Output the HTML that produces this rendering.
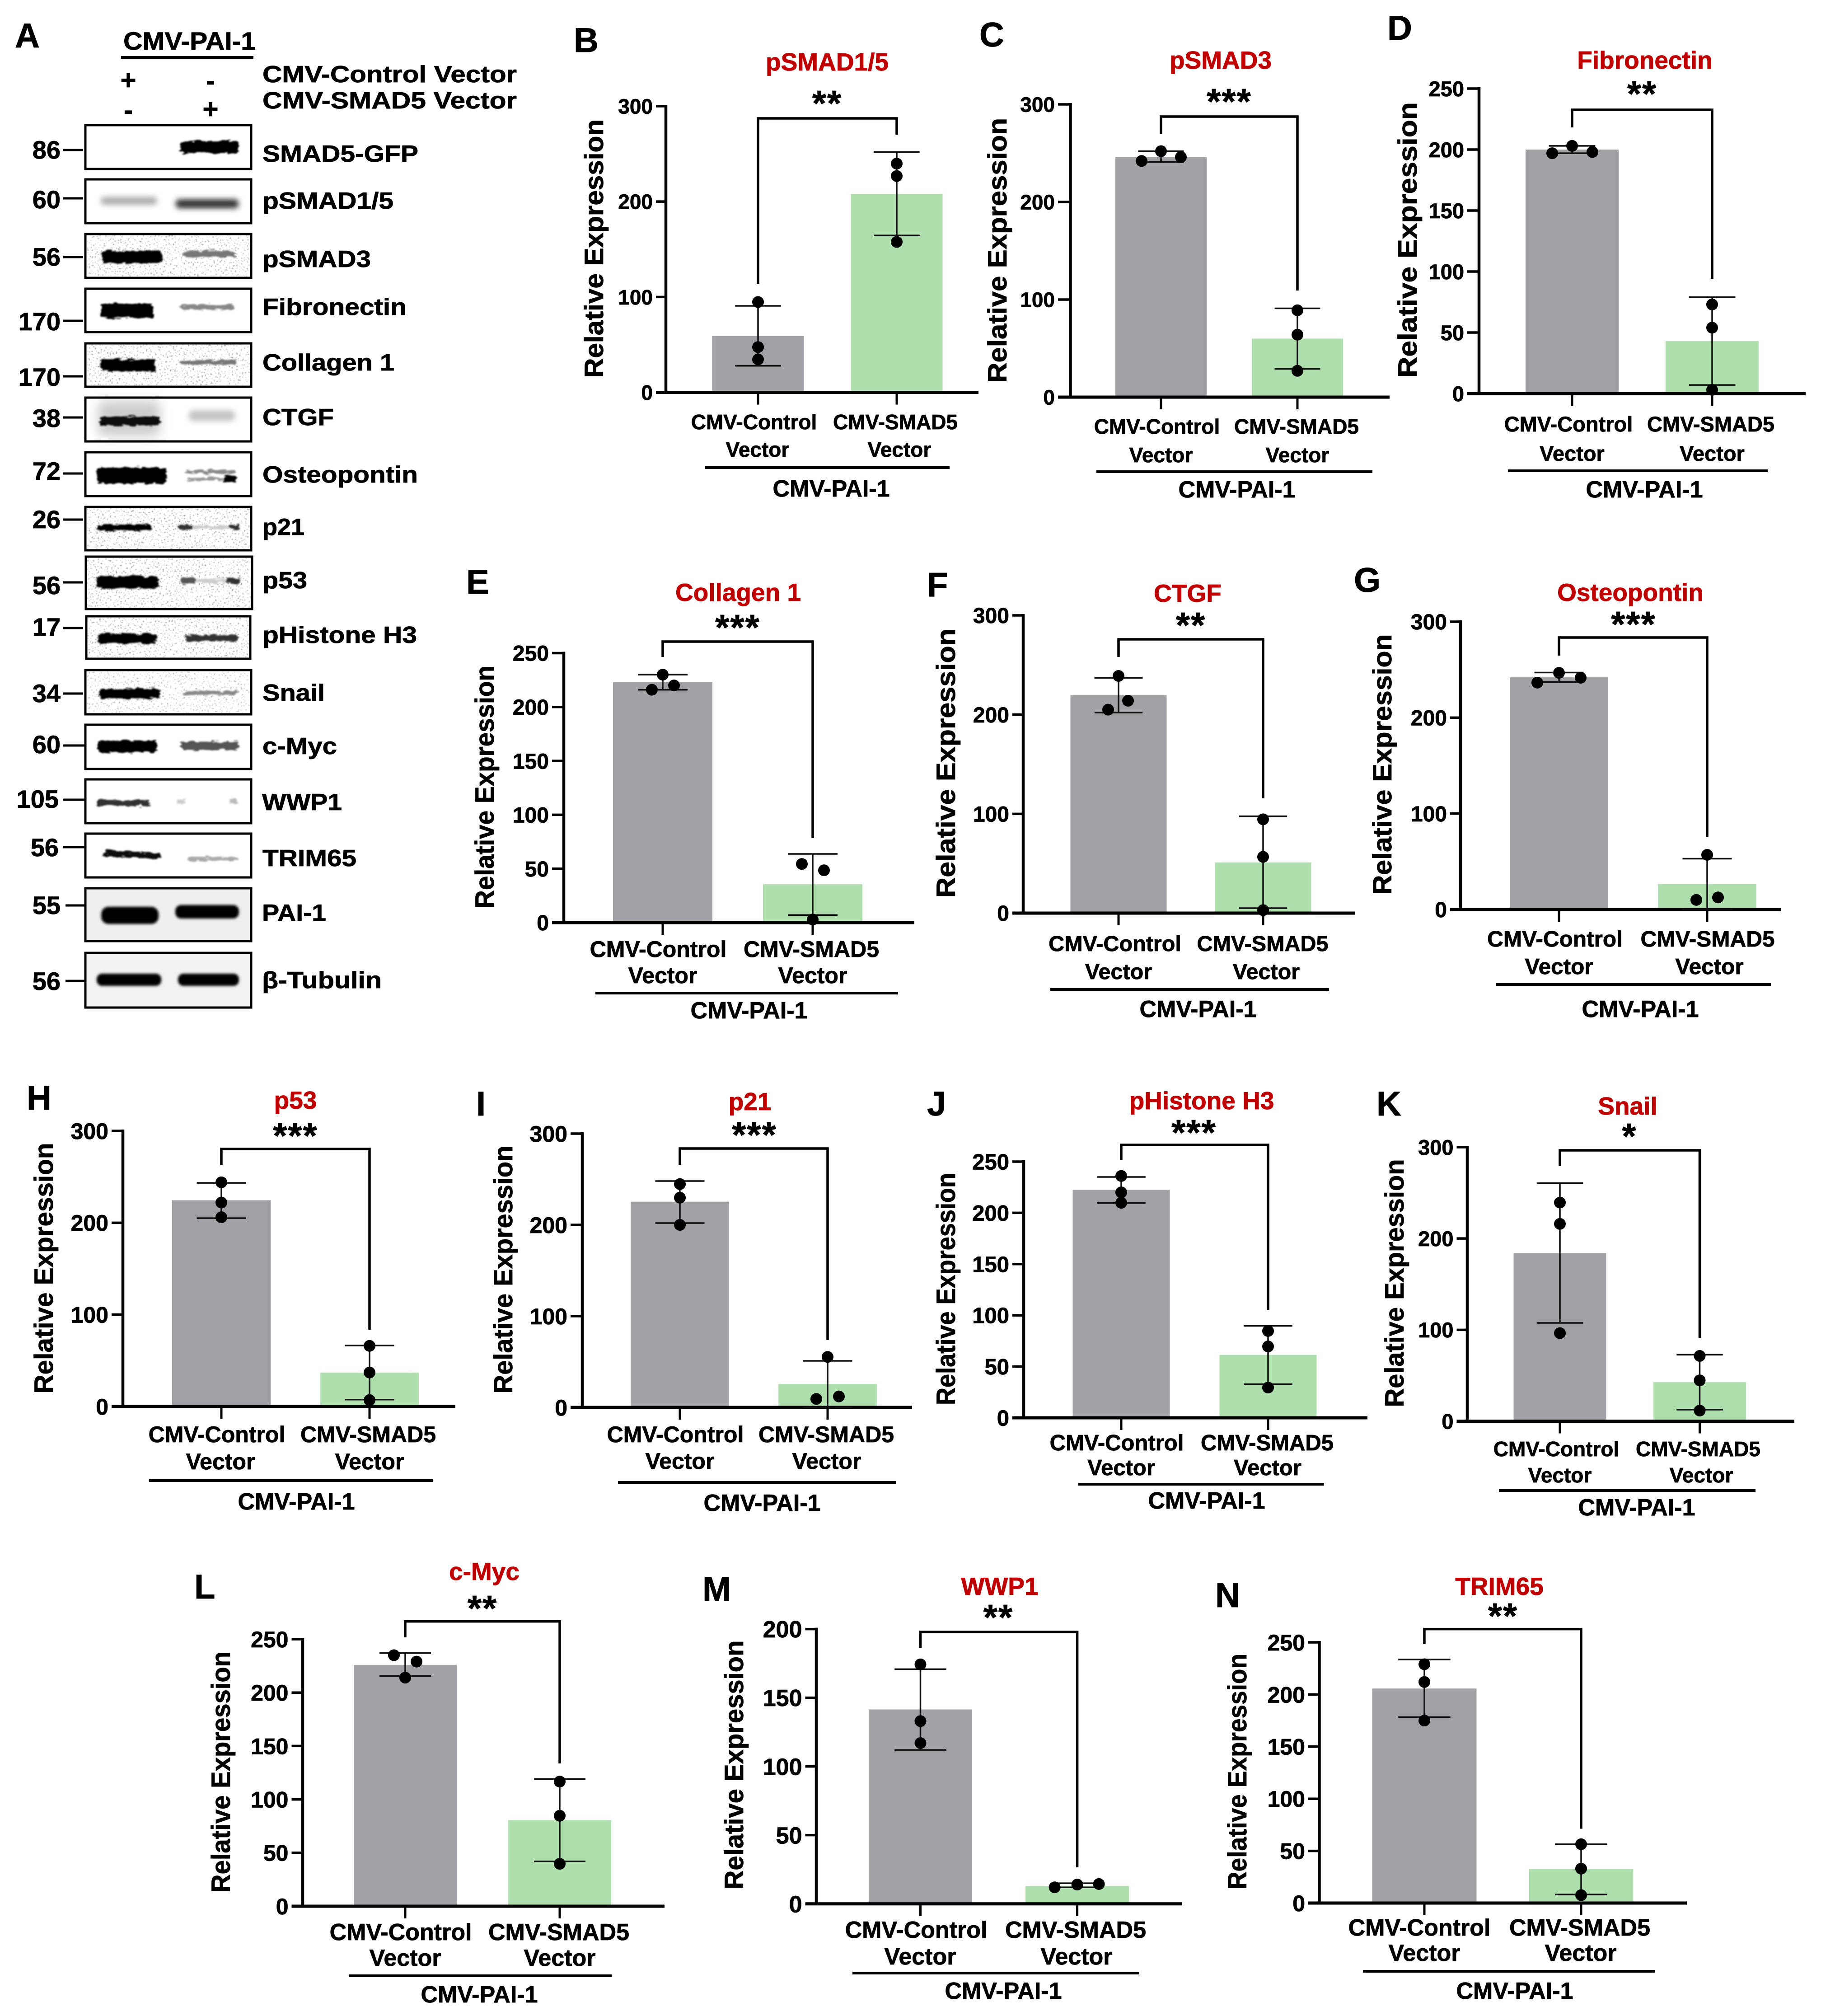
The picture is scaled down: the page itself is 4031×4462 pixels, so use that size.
<!DOCTYPE html>
<html lang="en">
<head>
<meta charset="utf-8">
<title>SMAD5 western blots and quantification</title>
<style>
html,body{margin:0;padding:0;background:#fff;width:4031px;height:4462px;overflow:hidden}
svg{display:block}
text{font-family:"Liberation Sans",Arial,sans-serif;font-weight:700;fill:#000;stroke:#000;stroke-width:.8px}
.let{font-size:76px}
.ttl{font-size:55px;fill:#c00000;stroke:#c00000;text-anchor:middle}
.yl{font-size:58px;text-anchor:middle}
.str{font-size:80px;text-anchor:middle;letter-spacing:2px;transform:translateY(-9px)}
.cat{text-anchor:middle}
.pai{font-size:52px;text-anchor:middle}
.mw{font-size:56px;text-anchor:end}
.nm{font-size:52px}
.sg{font-size:60px;text-anchor:middle}
.box{fill:none;stroke:#000;stroke-width:5}
.dash{stroke:#000;stroke-width:5}
.ul{stroke:#000;stroke-width:6}
</style>
</head>
<body>
<svg xmlns="http://www.w3.org/2000/svg" width="4031" height="4462" viewBox="0 0 4031 4462">
<defs>
<filter id="b3" x="-15%" y="-80%" width="130%" height="260%">
<feTurbulence type="fractalNoise" baseFrequency=".06 .22" numOctaves="2" seed="3" result="n"/>
<feDisplacementMap in="SourceGraphic" in2="n" scale="13" xChannelSelector="R" yChannelSelector="G"/>
<feGaussianBlur stdDeviation="1.6"/>
</filter>
<filter id="soft" x="-30%" y="-60%" width="160%" height="220%"><feGaussianBlur stdDeviation="3"/></filter>
<filter id="b6" x="-30%" y="-80%" width="160%" height="260%"><feGaussianBlur stdDeviation="6"/></filter>
<filter id="b12" x="-30%" y="-80%" width="160%" height="260%"><feGaussianBlur stdDeviation="12"/></filter>
<filter id="speck" x="0" y="0" width="100%" height="100%" color-interpolation-filters="sRGB">
<feTurbulence type="fractalNoise" baseFrequency=".3" numOctaves="2" seed="7"/>
<feColorMatrix type="matrix" values="0 0 0 0 0  0 0 0 0 0  0 0 0 0 0  12 0 0 0 -7.6"/>
<feGaussianBlur stdDeviation=".8"/>
</filter>
</defs>
<rect x="0" y="0" width="4031" height="4462" fill="#fff"/>

<!-- Panel A -->
<g>
<text class="let" x="33" y="105">A</text>
<text x="273" y="110" style="font-size:56px" textLength="293" lengthAdjust="spacingAndGlyphs">CMV-PAI-1</text>
<line class="ul" x1="268" y1="127" x2="561" y2="127"/>
<text class="nm" x="581" y="182" textLength="563" lengthAdjust="spacingAndGlyphs">CMV-Control Vector</text>
<text class="nm" x="581" y="240" textLength="563" lengthAdjust="spacingAndGlyphs">CMV-SMAD5 Vector</text>
<text class="sg" x="284" y="198">+</text>
<text class="sg" x="466" y="199">-</text>
<text class="sg" x="284" y="264">-</text>
<text class="sg" x="466" y="262">+</text>

<g>
<rect x="399" y="312" width="130" height="27" rx="8" fill="#000" filter="url(#b3)"/>
<rect class="box" x="189" y="277" width="367" height="97"/>
<line class="dash" x1="140" y1="332" x2="184" y2="332"/>
<text class="mw" x="134" y="351">86</text>
<text class="nm" x="581" y="358" textLength="345" lengthAdjust="spacingAndGlyphs">SMAD5-GFP</text>
</g>
<g>
<rect x="223" y="436" width="125" height="17" rx="8" fill="#aaa" filter="url(#b6)"/>
<rect x="389" y="441" width="139" height="20" rx="8" fill="#333" filter="url(#b6)"/>
<rect class="box" x="189" y="397" width="367" height="97"/>
<line class="dash" x1="140" y1="439" x2="184" y2="439"/>
<text class="mw" x="134" y="461">60</text>
<text class="nm" x="581" y="462" textLength="290" lengthAdjust="spacingAndGlyphs">pSMAD1/5</text>
</g>
<g>
<rect x="192" y="520" width="361" height="92" fill="#fff" filter="url(#speck)" opacity=".45"/>
<rect x="226" y="555" width="132" height="28" rx="8" fill="#000" filter="url(#b3)"/>
<rect x="406" y="555" width="114" height="14" rx="6" fill="#777" filter="url(#b3)"/>
<rect class="box" x="189" y="518" width="367" height="97"/>
<line class="dash" x1="140" y1="569" x2="184" y2="569"/>
<text class="mw" x="134" y="588">56</text>
<text class="nm" x="581" y="591" textLength="240" lengthAdjust="spacingAndGlyphs">pSMAD3</text>
</g>
<g>
<rect x="224" y="672" width="114" height="32" rx="6" fill="#000" filter="url(#b3)"/>
<rect x="399" y="674" width="121" height="11" rx="5" fill="#888" filter="url(#b3)"/>
<rect class="box" x="189" y="639" width="367" height="96"/>
<line class="dash" x1="140" y1="710" x2="184" y2="710"/>
<text class="mw" x="134" y="731">170</text>
<text class="nm" x="581" y="697" textLength="319" lengthAdjust="spacingAndGlyphs">Fibronectin</text>
</g>
<g>
<rect x="192" y="762" width="361" height="91" fill="#fff" filter="url(#speck)" opacity=".45"/>
<rect x="224" y="795" width="120" height="27" rx="6" fill="#000" filter="url(#b3)"/>
<rect x="399" y="797" width="124" height="9" rx="4" fill="#777" filter="url(#b3)"/>
<rect class="box" x="189" y="760" width="367" height="96"/>
<line class="dash" x1="140" y1="833" x2="184" y2="833"/>
<text class="mw" x="134" y="854">170</text>
<text class="nm" x="581" y="820" textLength="292" lengthAdjust="spacingAndGlyphs">Collagen 1</text>
</g>
<g>
<rect x="217" y="888" width="137" height="77" rx="14" fill="#ccc" filter="url(#b12)"/>
<rect x="220" y="922" width="134" height="20" rx="8" fill="#111" filter="url(#b3)"/>
<rect x="418" y="908" width="102" height="24" rx="10" fill="#c4c4c4" filter="url(#b6)"/>
<rect class="box" x="189" y="880" width="367" height="97"/>
<line class="dash" x1="140" y1="924" x2="184" y2="924"/>
<text class="mw" x="134" y="945">38</text>
<text class="nm" x="581" y="941" textLength="158" lengthAdjust="spacingAndGlyphs">CTGF</text>
</g>
<g>
<rect x="214" y="1034" width="155" height="36" rx="10" fill="#000" filter="url(#b3)"/>
<rect x="411" y="1040" width="109" height="8" rx="4" fill="#888" filter="url(#b3)"/>
<rect x="414" y="1056" width="100" height="8" rx="4" fill="#999" filter="url(#b3)"/>
<rect x="494" y="1053" width="30" height="14" rx="6" fill="#000" filter="url(#b3)"/>
<rect class="box" x="189" y="1001" width="367" height="97"/>
<line class="dash" x1="140" y1="1048" x2="184" y2="1048"/>
<text class="mw" x="134" y="1062">72</text>
<text class="nm" x="581" y="1068" textLength="344" lengthAdjust="spacingAndGlyphs">Osteopontin</text>
</g>
<g>
<rect x="192" y="1124" width="361" height="91" fill="#fff" filter="url(#speck)" opacity=".45"/>
<rect x="216" y="1161" width="119" height="14" rx="5" fill="#000" filter="url(#b3)"/>
<rect x="395" y="1161" width="32" height="11" rx="5" fill="#333" filter="url(#b3)"/>
<rect x="427" y="1164" width="80" height="6" rx="3" fill="#ccc" filter="url(#b3)"/>
<rect x="507" y="1161" width="22" height="11" rx="5" fill="#333" filter="url(#b3)"/>
<rect class="box" x="189" y="1122" width="367" height="96"/>
<line class="dash" x1="140" y1="1150" x2="184" y2="1150"/>
<text class="mw" x="134" y="1169">26</text>
<text class="nm" x="581" y="1184" textLength="93" lengthAdjust="spacingAndGlyphs">p21</text>
</g>
<g>
<rect x="193" y="1235" width="362" height="110" fill="#fff" filter="url(#speck)" opacity=".45"/>
<rect x="214" y="1275" width="137" height="27" rx="10" fill="#000" filter="url(#b3)"/>
<rect x="400" y="1279" width="34" height="13" rx="6" fill="#555" filter="url(#b3)"/>
<rect x="434" y="1281" width="67" height="9" rx="4" fill="#ccc" filter="url(#b3)"/>
<rect x="501" y="1279" width="30" height="13" rx="6" fill="#333" filter="url(#b3)"/>
<rect class="box" x="190" y="1232" width="368" height="116"/>
<line class="dash" x1="140" y1="1289" x2="184" y2="1289"/>
<text class="mw" x="134" y="1315">56</text>
<text class="nm" x="581" y="1302" textLength="99" lengthAdjust="spacingAndGlyphs">p53</text>
</g>
<g>
<rect x="194" y="1367" width="357" height="88" fill="#fff" filter="url(#speck)" opacity=".45"/>
<rect x="217" y="1403" width="131" height="21" rx="8" fill="#000" filter="url(#b3)"/>
<rect x="411" y="1405" width="115" height="14" rx="6" fill="#333" filter="url(#b3)"/>
<rect class="box" x="191" y="1364" width="363" height="94"/>
<line class="dash" x1="140" y1="1390" x2="184" y2="1390"/>
<text class="mw" x="134" y="1407">17</text>
<text class="nm" x="581" y="1423" textLength="342" lengthAdjust="spacingAndGlyphs">pHistone H3</text>
</g>
<g>
<rect x="192" y="1486" width="361" height="92" fill="#fff" filter="url(#speck)" opacity=".35"/>
<rect x="220" y="1524" width="134" height="22" rx="8" fill="#000" filter="url(#b3)"/>
<rect x="408" y="1529" width="118" height="9" rx="4" fill="#888" filter="url(#b3)"/>
<rect class="box" x="189" y="1483" width="367" height="98"/>
<line class="dash" x1="140" y1="1535" x2="184" y2="1535"/>
<text class="mw" x="134" y="1554">34</text>
<text class="nm" x="581" y="1551" textLength="138" lengthAdjust="spacingAndGlyphs">Snail</text>
</g>
<g>
<rect x="216" y="1639" width="132" height="26" rx="10" fill="#000" filter="url(#b3)"/>
<rect x="400" y="1642" width="128" height="18" rx="7" fill="#555" filter="url(#b3)"/>
<rect class="box" x="189" y="1604" width="367" height="98"/>
<line class="dash" x1="140" y1="1650" x2="189" y2="1650"/>
<text class="mw" x="134" y="1667">60</text>
<text class="nm" x="581" y="1669" textLength="165" lengthAdjust="spacingAndGlyphs">c-Myc</text>
</g>
<g>
<rect x="214" y="1771" width="118" height="13" rx="6" fill="#333" filter="url(#b3)"/>
<rect x="392" y="1770" width="18" height="9" rx="4" fill="#ccc" filter="url(#b3)"/>
<rect x="507" y="1767" width="20" height="10" rx="4" fill="#bbb" filter="url(#b3)"/>
<rect class="box" x="189" y="1725" width="367" height="97"/>
<line class="dash" x1="140" y1="1770" x2="189" y2="1770"/>
<text class="mw" x="130" y="1788">105</text>
<text class="nm" x="580" y="1793" textLength="177" lengthAdjust="spacingAndGlyphs">WWP1</text>
</g>
<g>
<rect x="230" y="1885" width="126" height="13" rx="6" fill="#111" filter="url(#b3)" transform="rotate(2.4 293 1891)"/>
<rect x="415" y="1897" width="111" height="8" rx="4" fill="#aaa" filter="url(#b3)"/>
<rect class="box" x="189" y="1845" width="367" height="97"/>
<line class="dash" x1="140" y1="1875" x2="189" y2="1875"/>
<text class="mw" x="130" y="1895">56</text>
<text class="nm" x="581" y="1917" textLength="208" lengthAdjust="spacingAndGlyphs">TRIM65</text>
</g>
<g>
<rect x="191" y="1968" width="363" height="113" fill="#efefef"/>
<rect x="224" y="2007" width="127" height="38" rx="16" fill="#000" filter="url(#soft)"/>
<rect x="388" y="2003" width="141" height="30" rx="13" fill="#000" filter="url(#soft)"/>
<rect class="box" x="189" y="1966" width="367" height="117"/>
<line class="dash" x1="145" y1="2004" x2="189" y2="2004"/>
<text class="mw" x="134" y="2023">55</text>
<text class="nm" x="580" y="2038" textLength="142" lengthAdjust="spacingAndGlyphs">PAI-1</text>
</g>
<g>
<rect x="191" y="2111" width="363" height="117" fill="#f2f2f2"/>
<rect x="214" y="2155" width="143" height="27" rx="12" fill="#000" filter="url(#soft)"/>
<rect x="394" y="2155" width="135" height="27" rx="12" fill="#000" filter="url(#soft)"/>
<rect class="box" x="189" y="2109" width="367" height="121"/>
<line class="dash" x1="145" y1="2171" x2="189" y2="2171"/>
<text class="mw" x="134" y="2191">56</text>
<text class="nm" x="580" y="2187" textLength="265" lengthAdjust="spacingAndGlyphs">β-Tubulin</text>
</g>
</g>

<!-- Panel B -->
<g style="font-size:46px">
<text class="let" x="1270" y="115">B</text>
<text class="ttl" x="1831" y="156">pSMAD1/5</text>
<text class="str" x="1831" y="265">**</text>
<text class="yl" transform="translate(1335,550) rotate(-90)" textLength="572" lengthAdjust="spacingAndGlyphs">Relative Expression</text>
<text class="cat" x="1669" y="950">CMV-Control</text>
<text class="cat" x="1677" y="1011">Vector</text>
<text class="cat" x="1982" y="950">CMV-SMAD5</text>
<text class="cat" x="1991" y="1011">Vector</text>
<line class="ul" x1="1560" y1="1035" x2="2102" y2="1035"/>
<text class="pai" x="1840" y="1099">CMV-PAI-1</text>
<g id="marks-B"></g>
</g>

<!-- Panel C -->
<g style="font-size:46px">
<text class="let" x="2168" y="103">C</text>
<text class="ttl" x="2702" y="152">pSMAD3</text>
<text class="str" x="2721" y="261">***</text>
<text class="yl" transform="translate(2228,554) rotate(-90)" textLength="586" lengthAdjust="spacingAndGlyphs">Relative Expression</text>
<text class="cat" x="2561" y="960">CMV-Control</text>
<text class="cat" x="2570" y="1023">Vector</text>
<text class="cat" x="2870" y="960">CMV-SMAD5</text>
<text class="cat" x="2872" y="1023">Vector</text>
<line class="ul" x1="2427" y1="1044" x2="3038" y2="1044"/>
<text class="pai" x="2738" y="1101">CMV-PAI-1</text>
<g id="marks-C"></g>
</g>

<!-- Panel D -->
<g style="font-size:47px">
<text class="let" x="3071" y="88">D</text>
<text class="ttl" x="3641" y="152">Fibronectin</text>
<text class="str" x="3635" y="244">**</text>
<text class="yl" transform="translate(3136,531) rotate(-90)" textLength="610" lengthAdjust="spacingAndGlyphs">Relative Expression</text>
<text class="cat" x="3472" y="955">CMV-Control</text>
<text class="cat" x="3480" y="1020">Vector</text>
<text class="cat" x="3787" y="955">CMV-SMAD5</text>
<text class="cat" x="3790" y="1020">Vector</text>
<line class="ul" x1="3338" y1="1042" x2="3913" y2="1042"/>
<text class="pai" x="3640" y="1101">CMV-PAI-1</text>
<g id="marks-D"></g>
</g>

<!-- Panel E -->
<g style="font-size:50px">
<text class="let" x="1032" y="1314">E</text>
<text class="ttl" x="1634" y="1330">Collagen 1</text>
<text class="str" x="1633" y="1425">***</text>
<text class="yl" transform="translate(1093,1742) rotate(-90)" textLength="538" lengthAdjust="spacingAndGlyphs">Relative Expression</text>
<text class="cat" x="1457" y="2118">CMV-Control</text>
<text class="cat" x="1467" y="2176">Vector</text>
<text class="cat" x="1796" y="2118">CMV-SMAD5</text>
<text class="cat" x="1799" y="2176">Vector</text>
<line class="ul" x1="1318" y1="2198" x2="1988" y2="2198"/>
<text class="pai" x="1658" y="2254">CMV-PAI-1</text>
<g id="marks-E"></g>
</g>

<!-- Panel F -->
<g style="font-size:48.5px">
<text class="let" x="2052" y="1320">F</text>
<text class="ttl" x="2629" y="1332">CTGF</text>
<text class="str" x="2636" y="1420">**</text>
<text class="yl" transform="translate(2114,1689) rotate(-90)" textLength="596" lengthAdjust="spacingAndGlyphs">Relative Expression</text>
<text class="cat" x="2468" y="2105">CMV-Control</text>
<text class="cat" x="2476" y="2167">Vector</text>
<text class="cat" x="2795" y="2105">CMV-SMAD5</text>
<text class="cat" x="2803" y="2167">Vector</text>
<line class="ul" x1="2325" y1="2190" x2="2942" y2="2190"/>
<text class="pai" x="2652" y="2251">CMV-PAI-1</text>
<g id="marks-F"></g>
</g>

<!-- Panel G -->
<g style="font-size:49.5px">
<text class="let" x="2997" y="1310">G</text>
<text class="ttl" x="3609" y="1330">Osteopontin</text>
<text class="str" x="3616" y="1418">***</text>
<text class="yl" transform="translate(3080,1692) rotate(-90)" textLength="577" lengthAdjust="spacingAndGlyphs">Relative Expression</text>
<text class="cat" x="3442" y="2095">CMV-Control</text>
<text class="cat" x="3451" y="2156">Vector</text>
<text class="cat" x="3780" y="2095">CMV-SMAD5</text>
<text class="cat" x="3784" y="2156">Vector</text>
<line class="ul" x1="3312" y1="2179" x2="3920" y2="2179"/>
<text class="pai" x="3631" y="2251">CMV-PAI-1</text>
<g id="marks-G"></g>
</g>

<!-- Panel H -->
<g style="font-size:50px">
<text class="let" x="59" y="2456">H</text>
<text class="ttl" x="654" y="2454">p53</text>
<text class="str" x="654" y="2550">***</text>
<text class="yl" transform="translate(117,2807) rotate(-90)" textLength="555" lengthAdjust="spacingAndGlyphs">Relative Expression</text>
<text class="cat" x="480" y="3192">CMV-Control</text>
<text class="cat" x="488" y="3252">Vector</text>
<text class="cat" x="815" y="3192">CMV-SMAD5</text>
<text class="cat" x="818" y="3252">Vector</text>
<line class="ul" x1="330" y1="3277" x2="958" y2="3277"/>
<text class="pai" x="656" y="3341">CMV-PAI-1</text>
<g id="marks-H"></g>
</g>

<!-- Panel I -->
<g style="font-size:50px">
<text class="let" x="1054" y="2469">I</text>
<text class="ttl" x="1660" y="2457">p21</text>
<text class="str" x="1670" y="2548">***</text>
<text class="yl" transform="translate(1134,2810) rotate(-90)" textLength="549" lengthAdjust="spacingAndGlyphs">Relative Expression</text>
<text class="cat" x="1495" y="3192">CMV-Control</text>
<text class="cat" x="1505" y="3251">Vector</text>
<text class="cat" x="1829" y="3192">CMV-SMAD5</text>
<text class="cat" x="1830" y="3251">Vector</text>
<line class="ul" x1="1368" y1="3281" x2="1984" y2="3281"/>
<text class="pai" x="1687" y="3344">CMV-PAI-1</text>
<g id="marks-I"></g>
</g>

<!-- Panel J -->
<g style="font-size:49px">
<text class="let" x="2052" y="2469">J</text>
<text class="ttl" x="2660" y="2455">pHistone H3</text>
<text class="str" x="2643" y="2543">***</text>
<text class="yl" transform="translate(2114,2853) rotate(-90)" textLength="514" lengthAdjust="spacingAndGlyphs">Relative Expression</text>
<text class="cat" x="2472" y="3210">CMV-Control</text>
<text class="cat" x="2482" y="3265">Vector</text>
<text class="cat" x="2805" y="3210">CMV-SMAD5</text>
<text class="cat" x="2806" y="3265">Vector</text>
<line class="ul" x1="2387" y1="3285" x2="2931" y2="3285"/>
<text class="pai" x="2671" y="3339">CMV-PAI-1</text>
<g id="marks-J"></g>
</g>

<!-- Panel K -->
<g style="font-size:46px">
<text class="let" x="3047" y="2469">K</text>
<text class="ttl" x="3603" y="2467">Snail</text>
<text class="str" x="3607" y="2551">*</text>
<text class="yl" transform="translate(3107,2840) rotate(-90)" textLength="549" lengthAdjust="spacingAndGlyphs">Relative Expression</text>
<text class="cat" x="3445" y="3223">CMV-Control</text>
<text class="cat" x="3453" y="3281">Vector</text>
<text class="cat" x="3759" y="3223">CMV-SMAD5</text>
<text class="cat" x="3766" y="3281">Vector</text>
<line class="ul" x1="3318" y1="3299" x2="3886" y2="3299"/>
<text class="pai" x="3623" y="3354">CMV-PAI-1</text>
<g id="marks-K"></g>
</g>

<!-- Panel L -->
<g style="font-size:52px">
<text class="let" x="430" y="3538">L</text>
<text class="ttl" x="1072" y="3497">c-Myc</text>
<text class="str" x="1068" y="3596">**</text>
<text class="yl" transform="translate(509,3922) rotate(-90)" textLength="534" lengthAdjust="spacingAndGlyphs">Relative Expression</text>
<text class="cat" x="887" y="4294">CMV-Control</text>
<text class="cat" x="897" y="4351">Vector</text>
<text class="cat" x="1237" y="4294">CMV-SMAD5</text>
<text class="cat" x="1239" y="4351">Vector</text>
<line class="ul" x1="773" y1="4373" x2="1354" y2="4373"/>
<text class="pai" x="1061" y="4432">CMV-PAI-1</text>
<g id="marks-L"></g>
</g>

<!-- Panel M -->
<g style="font-size:52px">
<text class="let" x="1555" y="3543">M</text>
<text class="ttl" x="2213" y="3530">WWP1</text>
<text class="str" x="2210" y="3616">**</text>
<text class="yl" transform="translate(1645,3906) rotate(-90)" textLength="551" lengthAdjust="spacingAndGlyphs">Relative Expression</text>
<text class="cat" x="2028" y="4289">CMV-Control</text>
<text class="cat" x="2037" y="4348">Vector</text>
<text class="cat" x="2381" y="4289">CMV-SMAD5</text>
<text class="cat" x="2383" y="4348">Vector</text>
<line class="ul" x1="1887" y1="4367" x2="2522" y2="4367"/>
<text class="pai" x="2221" y="4424">CMV-PAI-1</text>
<g id="marks-M"></g>
</g>

<!-- Panel N -->
<g style="font-size:52px">
<text class="let" x="2690" y="3557">N</text>
<text class="ttl" x="3319" y="3530">TRIM65</text>
<text class="str" x="3327" y="3613">**</text>
<text class="yl" transform="translate(2759,3921) rotate(-90)" textLength="522" lengthAdjust="spacingAndGlyphs">Relative Expression</text>
<text class="cat" x="3142" y="4284">CMV-Control</text>
<text class="cat" x="3153" y="4340">Vector</text>
<text class="cat" x="3497" y="4284">CMV-SMAD5</text>
<text class="cat" x="3499" y="4340">Vector</text>
<line class="ul" x1="3017" y1="4363" x2="3663" y2="4363"/>
<text class="pai" x="3353" y="4424">CMV-PAI-1</text>
<g id="marks-N"></g>
</g>
</svg>

<script>
// Data (panel order B..N; each entry: [control, SMAD5])
const panelIds = ['B','C','D','E','F','G','H','I','J','K','L','M','N'];
const categories = ['control','smad5'];
const tickLabels = [
  [0,100,200,300],[0,100,200,300],[0,50,100,150,200,250],[0,50,100,150,200,250],
  [0,100,200,300],[0,100,200,300],[0,100,200,300],[0,100,200,300],
  [0,50,100,150,200,250],[0,100,200,300],[0,50,100,150,200,250],[0,50,100,150,200],[0,50,100,150,200,250]
];
const meanValues = [
  [59,208],[246,60],[200,43],[223,35.6],[219.5,51],[242,26.5],[224.5,36.8],
  [225.4,25.5],[222.5,61.4],[184,42.7],[226,80.6],[141.5,13],[205.7,32.7]
];
const errorLow = [
  [27.9,164.5],[241,29],[197,7],[216,7],[202,5],[237,0],[205,7.5],
  [202,0],[209.6,32.8],[107.6,12.6],[215.5,42],[112,12],[178.3,8.2]
];
const errorHigh = [
  [90.7,252],[252,91],[203,79],[230,63.7],[237,97.6],[247,53],[243.4,66.4],
  [248,51],[235,89.7],[260.6,72.8],[237,119],[170.8,15],[233.6,56.4]
];
const pointValues = [
  [[94.7,47.5,34.6],[239.8,226.8,157.7]],
  [[242,252,246],[89,64,27]],
  [[197,203,198],[73,54,3]],
  [[230,220,216],[54.4,48.5,2.8]],
  [[239,214,205],[94.5,56.7,3]],
  [[246.7,241.6,236.5],[57,12.6,10]],
  [[244,222,206],[66,37,7]],
  [[244.7,229.8,200],[55.3,12,9.3]],
  [[236,220,209.8],[84.7,69.6,29.5]],
  [[239.4,216,96.4],[71.5,44.7,11.6]],
  [[235,229,214],[116.7,84.7,39.7]],
  [[174.3,133,117],[12,14,14.4]],
  [[229,212,175],[56.4,33,7.6]]
];

// Layout (pixel geometry of each plot, separate from the values)
const layouts = [
  {x:1474,top:235,y0:868.5,xEnd:2166,tl:1452,c1:1678,c2:1985,bw:203,f:46,br:[262,629,298],j:[[0,0,0],[0,0,0]]},
  {x:2369.5,top:231,y0:879,xEnd:3076,tl:2342,c1:2570,c2:2872,bw:202,f:46,br:[258,296,643],j:[[-43,0,44],[0,0,0]]},
  {x:3274,top:196,y0:871,xEnd:3997,tl:3248,c1:3480,c2:3790,bw:206,f:47,br:[243,282,617],j:[[-44,0,45],[0,0,0]]},
  {x:1248,top:1445.5,y0:2042,xEnd:2024,tl:1222,c1:1467,c2:1799,bw:220,f:48,br:[1420,1454,1855],j:[[0,25,-24],[-24,25,0]]},
  {x:2265,top:1362,y0:2021,xEnd:3000,tl:2241,c1:2476,c2:2796,bw:213,f:48,br:[1415,1454,1767],j:[[0,21,-23],[0,0,0]]},
  {x:3233,top:1376,y0:2013,xEnd:3943,tl:3210,c1:3451,c2:3779,bw:218,f:48,br:[1411,1451,1853],j:[[0,48,-48],[0,24,-24]]},
  {x:272,top:2503,y0:3113,xEnd:1008,tl:247,c1:490,c2:818,bw:218,f:50,br:[2543,2579,2943],j:[[0,0,0],[0,0,0]]},
  {x:1289,top:2509,y0:3115,xEnd:2019,tl:1263,c1:1505,c2:1832,bw:218,f:50,br:[2542,2578,2966],j:[[0,0,0],[0,25,-25]]},
  {x:2266,top:2571,y0:3138,xEnd:3027,tl:2241,c1:2482,c2:2807,bw:215,f:49,br:[2534,2568,2900],j:[[0,0,0],[0,0,0]]},
  {x:3248,top:2539,y0:3145.5,xEnd:3972,tl:3224.5,c1:3453,c2:3762.5,bw:205,f:47,br:[2546,2581,2961],j:[[0,0,0],[0,0,0]]},
  {x:670,top:3628,y0:4219,xEnd:1471,tl:645.5,c1:897,c2:1239,bw:228,f:50,br:[3588.6,3624,3903],j:[[-25,25,0],[0,0,0]]},
  {x:1807,top:3605.6,y0:4213.7,xEnd:2617,tl:1782.5,c1:2037.5,c2:2384.6,bw:229,f:52,br:[3612,3647,4133],j:[[0,0,0],[-50,0,48]]},
  {x:2920.5,top:3635,y0:4212,xEnd:3734,tl:2896,c1:3153,c2:3500,bw:231,f:50,br:[3605.6,3639,4047.5],j:[[0,0,0],[0,0,0]]}
];
const barFills = ['#a2a1a5','#aedfac'];

const SVG_NS = 'http://www.w3.org/2000/svg';
function mk(tag, attrs, parent) {
  const el = document.createElementNS(SVG_NS, tag);
  for (const k in attrs) el.setAttribute(k, attrs[k]);
  parent.appendChild(el);
  return el;
}

panelIds.forEach(function (id, i) {
  const L = layouts[i];
  const ticks = tickLabels[i];
  const maxV = ticks[ticks.length - 1];
  const yOf = function (v) { return L.y0 - (v / maxV) * (L.y0 - L.top); };
  const xOf = function (k) { return L.c1 + k * (L.c2 - L.c1); };
  const g = document.getElementById('marks-' + id);
  const low = id.toLowerCase();
  const capHalf = L.bw * 0.25;

  categories.forEach(function (cat, s) {
    const bar = mk('rect', {x: xOf(s) - L.bw / 2, y: yOf(meanValues[i][s]), width: L.bw, height: L.y0 - yOf(meanValues[i][s]), fill: barFills[s]}, g);
    
    
  });

  const yAxis = mk('line', {x1: L.x, y1: L.top - 3, x2: L.x, y2: L.y0 + 3, stroke: '#000', 'stroke-width': 6.5}, g);
  
  
  const xAxis = mk('line', {x1: L.tl, y1: L.y0, x2: L.xEnd, y2: L.y0, stroke: '#000', 'stroke-width': 7}, g);
  
  

  ticks.forEach(function (t) {
    const tick = mk('line', {x1: L.tl, y1: yOf(t), x2: L.x, y2: yOf(t), stroke: '#000', 'stroke-width': 5.5}, g);
    
    
    const lab = mk('text', {x: L.tl - 7, y: yOf(t) + 0.358 * L.f, 'text-anchor': 'end', 'font-size': L.f}, g);
    lab.textContent = String(t);
    
    
  });

  categories.forEach(function (cat, s) {
    const tick = mk('line', {x1: xOf(s), y1: L.y0, x2: xOf(s), y2: L.y0 + 27, stroke: '#000', 'stroke-width': 5}, g);
    
    

    const stem = mk('line', {x1: xOf(s), y1: yOf(errorHigh[i][s]), x2: xOf(s), y2: yOf(errorLow[i][s]), stroke: '#111', 'stroke-width': 3.5}, g);
    
    
    const capHi = mk('line', {x1: xOf(s) - capHalf, y1: yOf(errorHigh[i][s]), x2: xOf(s) + capHalf, y2: yOf(errorHigh[i][s]), stroke: '#111', 'stroke-width': 3.5}, g);
    
    
    const capLo = mk('line', {x1: xOf(s) - capHalf, y1: yOf(errorLow[i][s]), x2: xOf(s) + capHalf, y2: yOf(errorLow[i][s]), stroke: '#111', 'stroke-width': 3.5}, g);
    
    

    pointValues[i][s].forEach(function (v, p) {
      const dot = mk('circle', {cx: xOf(s) + L.j[s][p], cy: yOf(v), r: 13, fill: '#000'}, g);
      
      
    });
  });

  const bracket = mk('path', {d: 'M' + L.c1 + ' ' + L.br[1] + 'V' + L.br[0] + 'H' + L.c2 + 'V' + L.br[2], fill: 'none', stroke: '#000', 'stroke-width': 5.5}, g);
  
  
});
</script>
</body>
</html>
